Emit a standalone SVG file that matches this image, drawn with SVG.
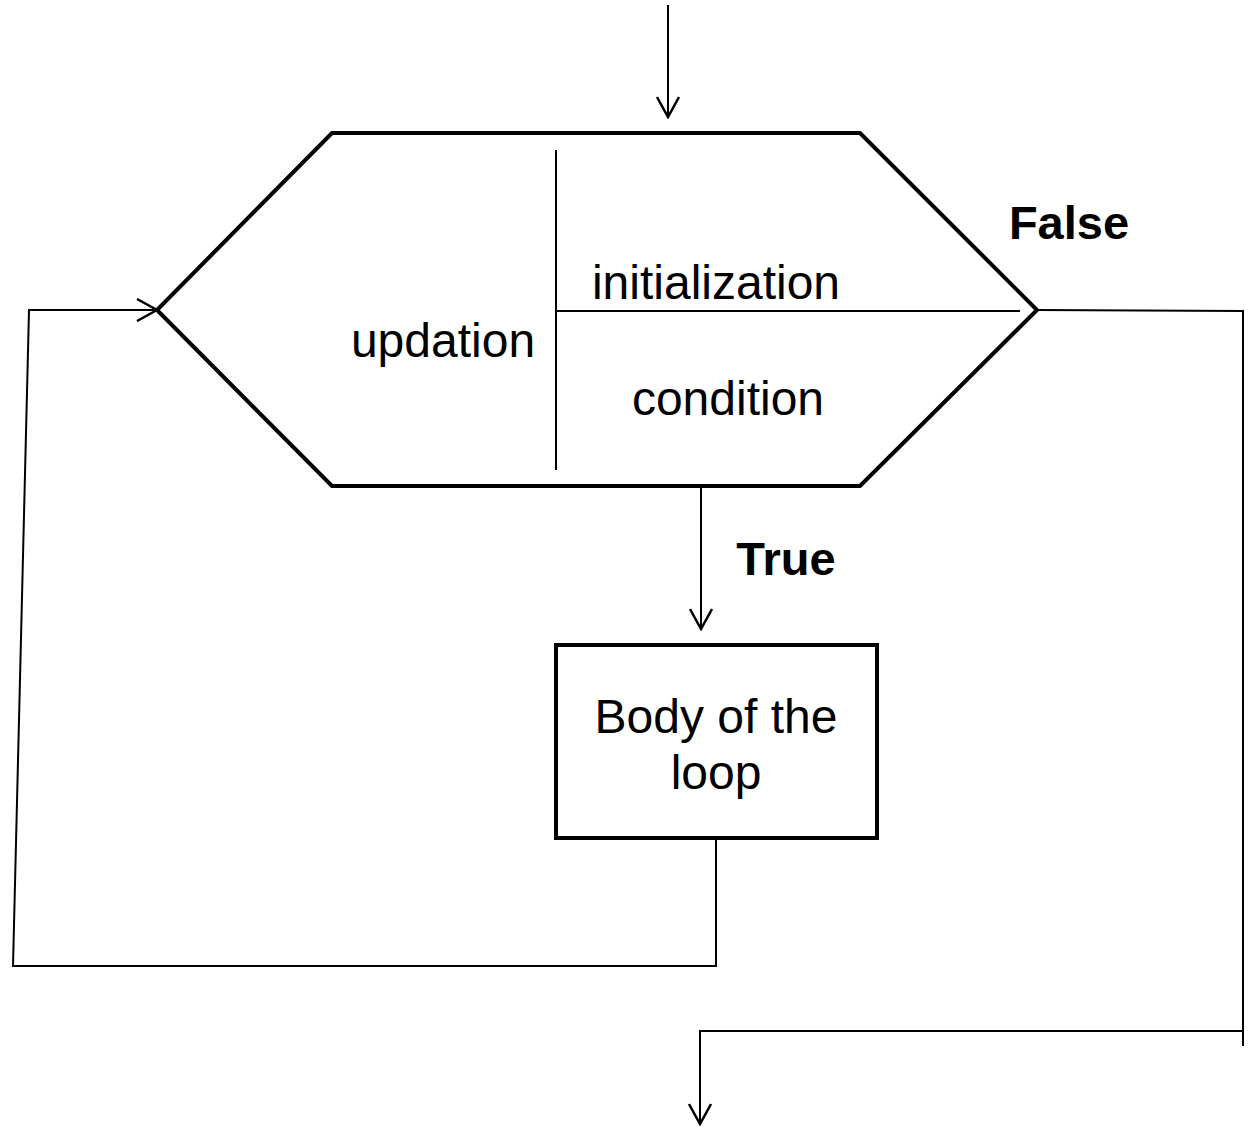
<svg xmlns="http://www.w3.org/2000/svg" width="1257" height="1127" viewBox="0 0 1257 1127">
<style>
.node{fill:#fff;stroke:#000;stroke-width:4;stroke-linejoin:miter}
.div{stroke:#000;stroke-width:2;fill:none}
.conn{stroke:#000;stroke-width:2;fill:none}
.t{font-family:"Liberation Sans",Arial,sans-serif;font-size:48px;fill:#000;text-anchor:middle}
.b{font-family:"Liberation Sans",Arial,sans-serif;font-size:47px;font-weight:bold;fill:#000;text-anchor:middle}
</style>
<defs>
<marker id="arr" viewBox="0 0 24 24" refX="22" refY="12" markerWidth="24" markerHeight="24" markerUnits="userSpaceOnUse" orient="auto">
<path d="M2,1 L22,12 L2,23" fill="none" stroke="#000" stroke-width="2.5"/>
</marker>
</defs>
<g id="loop-hexagon">
<polygon class="node" points="332,133 860,133 1037,310 860,486 332,486 157,310"/>
<line class="div" x1="556" y1="150" x2="556" y2="470"/>
<line class="div" x1="556" y1="311" x2="1020" y2="311"/>
<text class="t" x="716" y="299">initialization</text>
<text class="t" x="443" y="357">updation</text>
<text class="t" x="728" y="415">condition</text>
</g>
<g id="body">
<rect class="node" x="556" y="645" width="321" height="193"/>
<text class="t" x="716" y="733">Body of the</text>
<text class="t" x="716" y="789">loop</text>
</g>
<g id="connectors">
<line class="conn" x1="668" y1="5" x2="668" y2="117" marker-end="url(#arr)"/>
<line class="conn" x1="701" y1="488" x2="701" y2="629" marker-end="url(#arr)"/>
<polyline class="conn" points="716,840 716,966 13,966 29,310 157,310" marker-end="url(#arr)"/>
<polyline class="conn" points="1037,310 1243,311 1243,1046"/>
<polyline class="conn" points="1243,1031 700,1031 700,1124" marker-end="url(#arr)"/>
<text class="b" x="1069" y="239">False</text>
<text class="b" x="786" y="575">True</text>
</g>
</svg>
